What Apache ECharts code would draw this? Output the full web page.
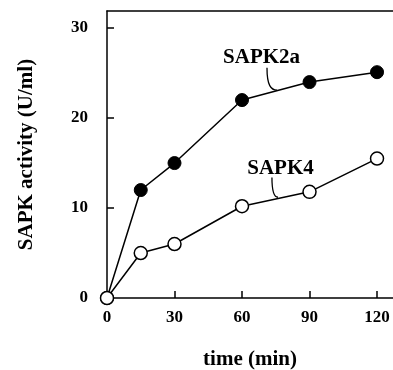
<!DOCTYPE html>
<html><head><meta charset="utf-8">
<script src="https://cdn.jsdelivr.net/npm/echarts@6/dist/echarts.min.js"></script>
<style>html,body{margin:0;padding:0;background:#fff}#c{width:393px;height:370px}</style>
</head><body><div id="c"></div>
<script>
const times = [0, 15, 30, 60, 90, 120];
const sapk2a = [0, 12, 15, 22, 24, 25.1];
const sapk4 = [0, 5, 6, 10.2, 11.8, 15.5];
const xTicks = [0, 30, 60, 90, 120];
const yTicks = [0, 10, 20, 30];
const seriesNames = ['SAPK2a', 'SAPK4'];

const FONT = '"Liberation Serif", "DejaVu Serif", serif';
const chart = echarts.init(document.getElementById('c'), null, {renderer: 'canvas'});
const pts = (ys) => times.map((t, i) => [t, ys[i]]);
const LW = 1.5;

chart.setOption({
  animation: false,
  backgroundColor: '#fff',
  grid: {left: 107, top: 11, right: 0, bottom: 72, containLabel: false, outerBoundsMode: 'none'},
  xAxis: [{
    type: 'value', min: 0, max: 127.1, interval: 30,
    name: 'time (min)', nameLocation: 'middle', nameGap: 51,
    nameTextStyle: {fontFamily: FONT, fontWeight: 'bold', fontSize: 21, color: '#000'},
    axisLine: {lineStyle: {color: '#000', width: LW}},
    axisTick: {inside: true, length: 7, lineStyle: {color: '#000', width: LW},
      interval: (i, v) => xTicks.includes(Number(v))},
    axisLabel: {fontFamily: FONT, fontWeight: 'bold', fontSize: 17, color: '#000', margin: 11,
      showMaxLabel: false,
      formatter: v => xTicks.includes(v) ? String(v) : ''},
    splitLine: {show: false}
  }, {
    type: 'value', position: 'top', min: 0, max: 127.1,
    axisLine: {show: true, lineStyle: {color: '#000', width: LW}},
    axisTick: {show: false}, axisLabel: {show: false}, splitLine: {show: false}
  }],
  yAxis: {
    type: 'value', min: 0, max: 31.9, interval: 10,
    name: 'SAPK activity (U/ml)', nameLocation: 'middle', nameGap: 70,
    nameTextStyle: {fontFamily: FONT, fontWeight: 'bold', fontSize: 21, color: '#000'},
    axisLine: {lineStyle: {color: '#000', width: LW}},
    axisTick: {inside: true, length: 7, lineStyle: {color: '#000', width: LW}},
    axisLabel: {fontFamily: FONT, fontWeight: 'bold', fontSize: 17, color: '#000', margin: 19,
      showMaxLabel: false,
      formatter: v => yTicks.includes(v) ? String(v) : ''},
    splitLine: {show: false}
  },
  series: [
    {name: seriesNames[0], type: 'line', data: pts(sapk2a), clip: false,
     symbol: 'circle', symbolSize: 13,
     lineStyle: {color: '#000', width: LW},
     itemStyle: {color: '#000', borderColor: '#000', borderWidth: 1}},
    {name: seriesNames[1], type: 'line', data: pts(sapk4), clip: false,
     symbol: 'circle', symbolSize: 13,
     lineStyle: {color: '#000', width: LW},
     itemStyle: {color: '#fff', borderColor: '#000', borderWidth: LW}}
  ]
});

// annotations placed in data coordinates
const ann = [
  {text: seriesNames[0], at: [68.7, 26.7], from: [71.1, 25.6], to: [75.6, 23.1]},
  {text: seriesNames[1], at: [77.1, 14.4], from: [73.3, 13.4], to: [76.0, 11.2]}
];
const g = [];
ann.forEach(a => {
  const p = chart.convertToPixel({gridIndex: 0}, a.at);
  const s = chart.convertToPixel({gridIndex: 0}, a.from);
  const e = chart.convertToPixel({gridIndex: 0}, a.to);
  g.push({type: 'text', x: p[0], y: p[1], style: {text: a.text, fontFamily: FONT, fontWeight: 'bold', fontSize: 21, fill: '#000', align: 'center', verticalAlign: 'middle'}});
  g.push({type: 'bezierCurve', shape: {x1: s[0], y1: s[1], cpx1: s[0], cpy1: s[1] + (e[1]-s[1])*0.8, cpx2: s[0] + (e[0]-s[0])*0.4, cpy2: e[1], x2: e[0], y2: e[1]},
          style: {stroke: '#000', lineWidth: 1.3, fill: null}});
});
chart.setOption({graphic: g});
</script></body></html>
